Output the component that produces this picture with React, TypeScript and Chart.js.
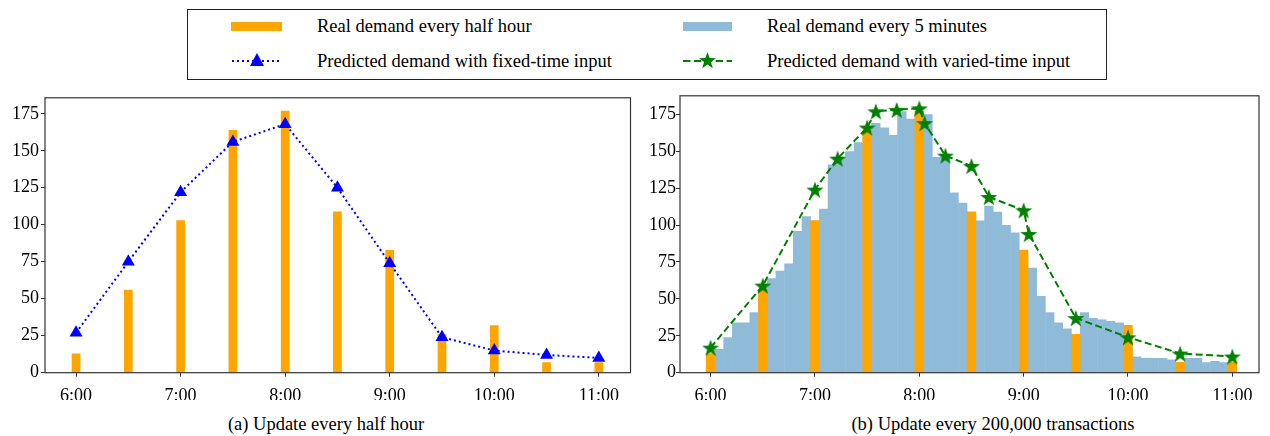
import React, { useEffect, useRef } from 'react';
import { Chart, registerables } from 'chart.js';

Chart.register(...registerables);

const FONT = "'Liberation Serif', 'Times New Roman', serif";
Chart.defaults.font.family = FONT;

// ---- data ----
const hourTicks = ['6:00', '7:00', '8:00', '9:00', '10:00', '11:00'];
const yTicks = [0, 25, 50, 75, 100, 125, 150, 175];

const halfHourTimes = ['6:00', '6:30', '7:00', '7:30', '8:00', '8:30', '9:00', '9:30', '10:00', '10:30', '11:00'];
const halfHourDemand = [13, 56, 103, 164, 177, 109, 83, 26, 32, 7, 7];
const fixedTimePrediction = [27, 75, 122, 156, 168, 125, 74, 24, 15, 12, 10];

// every 5 minutes from 6:00 to 11:00
const fiveMinuteDemand = [
  12, 16, 24, 34, 34, 41,
  52, 64, 69, 74, 96, 106,
  100, 111, 141, 146, 150, 156,
  160, 169, 166, 161, 177, 172,
  174, 175, 146, 146, 122, 115,
  108, 103, 113, 109, 100, 95,
  80, 71, 52, 41, 34, 30,
  25, 41, 37, 36, 35, 34,
  30, 11, 10, 10, 10, 9,
  7, 10, 10, 7, 8, 7,
  7,
];

const variedTimes = ['6:00', '6:30', '7:00', '7:13', '7:30', '7:35', '7:47', '8:00', '8:03', '8:15', '8:30', '8:40', '9:00', '9:03', '9:30', '10:00', '10:30', '11:00'];
const variedTimePrediction = [17, 59, 124, 145, 166, 177, 178, 179, 169, 147, 140, 119, 110, 94, 37, 24, 13, 11];

// ---- helpers ----
const toHours = (t: string) => {
  const [h, m] = t.split(':').map(Number);
  return h + m / 60;
};
const fmt = (mins: number) => `${Math.floor(mins / 60)}:${String(mins % 60).padStart(2, '0')}`;
const fiveMinuteTimes = fiveMinuteDemand.map((_, i) => fmt(6 * 60 + i * 5));
const hourLabel = (v: number) => {
  const found = hourTicks.find((t) => Math.abs(toHours(t) - v) < 1e-6);
  return found ?? '';
};

const framePlugin = {
  id: 'frame',
  afterDraw(chart: any) {
    const { ctx, chartArea: a } = chart;
    ctx.save();
    ctx.strokeStyle = '#333';
    ctx.lineWidth = 1.2;
    ctx.strokeRect(a.left, a.top, a.right - a.left, a.bottom - a.top);
    ctx.restore();
  },
};

function makeStar(r: number, color: string) {
  const size = Math.ceil(r * 2 + 2);
  const c = document.createElement('canvas');
  c.width = size;
  c.height = size;
  const ctx = c.getContext('2d')!;
  ctx.fillStyle = color;
  ctx.beginPath();
  for (let i = 0; i < 10; i++) {
    const rad = i % 2 === 0 ? r : r * 0.4;
    const a = -Math.PI / 2 + (i * Math.PI) / 5;
    ctx.lineTo(size / 2 + rad * Math.cos(a), size / 2 + 1 + rad * Math.sin(a));
  }
  ctx.closePath();
  ctx.fill();
  return c;
}

function scales(xmin: number, xmax: number, ymax: number, yWidth: number, yPad: number) {
  const font = { family: FONT, size: 18 };
  return {
    x: {
      type: 'linear' as const,
      min: xmin,
      max: xmax,
      offset: false,
      afterBuildTicks: (s: any) => {
        s.ticks = hourTicks.map((t) => ({ value: toHours(t) }));
      },
      afterFit: (s: any) => {
        s.height = 27.3;
      },
      ticks: {
        callback: (v: any) => hourLabel(Number(v)),
        font,
        color: '#000',
        padding: 9,
        maxRotation: 0,
        autoSkip: false,
      },
      grid: { drawOnChartArea: false, drawTicks: true, tickLength: 4, color: '#333', offset: false },
      border: { display: false },
    },
    y: {
      type: 'linear' as const,
      min: 0,
      max: ymax,
      afterBuildTicks: (s: any) => {
        s.ticks = yTicks.map((v) => ({ value: v }));
      },
      afterFit: (s: any) => {
        s.width = yWidth;
      },
      ticks: { font, color: '#000', padding: yPad },
      grid: { drawOnChartArea: false, drawTicks: true, tickLength: 4, color: '#333' },
      border: { display: false },
    },
  };
}

export default function App() {
  const leftRef = useRef<HTMLCanvasElement>(null);
  const rightRef = useRef<HTMLCanvasElement>(null);

  useEffect(() => {
    const star = makeStar(9, '#008000');
    const left = new Chart(leftRef.current!, {
      type: 'bar',
      data: {
        datasets: [
          {
            type: 'line',
            label: 'Predicted demand with fixed-time input',
            data: halfHourTimes.map((t, i) => ({ x: toHours(t), y: fixedTimePrediction[i] })),
            borderColor: '#0000FF',
            borderWidth: 2,
            borderDash: [2, 3],
            pointStyle: 'triangle',
            pointRadius: 7.5,
            pointBackgroundColor: '#0000FF',
            pointBorderColor: '#0000FF',
            pointBorderWidth: 0,
            fill: false,
            tension: 0,
            order: 0,
          } as any,
          {
            type: 'bar',
            label: 'Real demand every half hour',
            data: halfHourTimes.map((t, i) => ({ x: toHours(t), y: halfHourDemand[i] })),
            backgroundColor: '#FFA500',
            grouped: false,
            categoryPercentage: 1,
            barPercentage: 1 / 6,
            order: 1,
          } as any,
        ],
      },
      options: {
        animation: false,
        responsive: false,
        maintainAspectRatio: false,
        layout: { padding: { top: 8, right: 2, left: 0, bottom: 0 } },
        plugins: { legend: { display: false }, tooltip: { enabled: false } },
        scales: scales(5.703, 11.303, 185.8, 45, 2) as any,
      },
      plugins: [framePlugin],
    });

    const right = new Chart(rightRef.current!, {
      type: 'bar',
      data: {
        datasets: [
          {
            type: 'line',
            label: 'Predicted demand with varied-time input',
            data: variedTimes.map((t, i) => ({ x: toHours(t), y: variedTimePrediction[i] })),
            borderColor: '#008000',
            borderWidth: 2,
            borderDash: [7, 3.5],
            pointStyle: star,
            pointRadius: 7,
            fill: false,
            tension: 0,
            order: 0,
          } as any,
          {
            type: 'bar',
            label: 'Real demand every half hour',
            data: halfHourTimes.map((t, i) => ({ x: toHours(t), y: halfHourDemand[i] })),
            backgroundColor: '#FFA500',
            grouped: false,
            categoryPercentage: 1,
            barPercentage: 1,
            order: 1,
          } as any,
          {
            type: 'bar',
            label: 'Real demand every 5 minutes',
            data: fiveMinuteTimes.map((t, i) => ({ x: toHours(t), y: fiveMinuteDemand[i] })),
            backgroundColor: '#8FBBD9',
            grouped: false,
            categoryPercentage: 1,
            barPercentage: 1.06,
            order: 2,
          } as any,
        ],
      },
      options: {
        animation: false,
        responsive: false,
        maintainAspectRatio: false,
        layout: { padding: { top: 8, right: 2, left: 0, bottom: 0 } },
        plugins: { legend: { display: false }, tooltip: { enabled: false } },
        scales: scales(5.7065, 11.2557, 187.5, 40, 0) as any,
      },
      plugins: [framePlugin],
    });

    let alive = true;
    const refresh = () => {
      if (!alive) return;
      left.update('none');
      right.update('none');
    };
    if ((document as any).fonts) {
      (document as any).fonts.load('18px "Liberation Serif"').then(refresh, refresh);
    }

    return () => {
      alive = false;
      left.destroy();
      right.destroy();
    };
  }, []);

  const text = (s: string, left: number, cy: number, extra: any = {}) => (
    <div
      style={{
        position: 'absolute',
        left,
        top: cy - 10,
        height: 20,
        lineHeight: '20px',
        fontSize: 18.5,
        fontFamily: FONT,
        color: '#000',
        whiteSpace: 'nowrap',
        ...extra,
      }}
    >
      {s}
    </div>
  );

  const starPts = (cx: number, cy: number, r: number) =>
    Array.from({ length: 10 }, (_, i) => {
      const rad = i % 2 === 0 ? r : r * 0.4;
      const a = -Math.PI / 2 + (i * Math.PI) / 5;
      return `${cx + rad * Math.cos(a)},${cy + 1 + rad * Math.sin(a)}`;
    }).join(' ');

  return (
    <div style={{ position: 'fixed', left: 0, top: 0, width: 1270, height: 436, background: '#fff', overflow: 'hidden' }}>
      {/* legend */}
      <div
        style={{
          position: 'absolute',
          left: 187,
          top: 9,
          width: 920,
          height: 71,
          border: '1.5px solid #222',
          boxSizing: 'border-box',
        }}
      />
      <svg style={{ position: 'absolute', left: 0, top: 0 }} width={1270} height={90}>
        <rect x={231} y={22} width={51} height={9} fill="#FFA500" />
        <rect x={683} y={22} width={49} height={9} fill="#8FBBD9" />
        <line x1={232} y1={61} x2={282} y2={61} stroke="#0000FF" strokeWidth={2} strokeDasharray="2 3" />
        <polygon points="257,53 250,66 264,66" fill="#0000FF" />
        <line x1={683} y1={61} x2={732} y2={61} stroke="#008000" strokeWidth={2} strokeDasharray="7.4 3.5" />
        <polygon points={starPts(707.5, 60, 9)} fill="#008000" />
      </svg>
      {text('Real demand every half hour', 317, 26)}
      {text('Real demand every 5 minutes', 767, 26)}
      {text('Predicted demand with fixed-time input', 317, 61)}
      {text('Predicted demand with varied-time input', 767, 61)}

      <canvas ref={leftRef} width={638} height={315} style={{ position: 'absolute', left: 0, top: 85, width: 638, height: 315 }} />
      <canvas ref={rightRef} width={628} height={315} style={{ position: 'absolute', left: 640, top: 85, width: 628, height: 315 }} />

      {text('(a) Update every half hour', 0, 424, { left: 226, width: 200, textAlign: 'center' })}
      {text('(b) Update every 200,000 transactions', 0, 424, { left: 843, width: 300, textAlign: 'center' })}
    </div>
  );
}
